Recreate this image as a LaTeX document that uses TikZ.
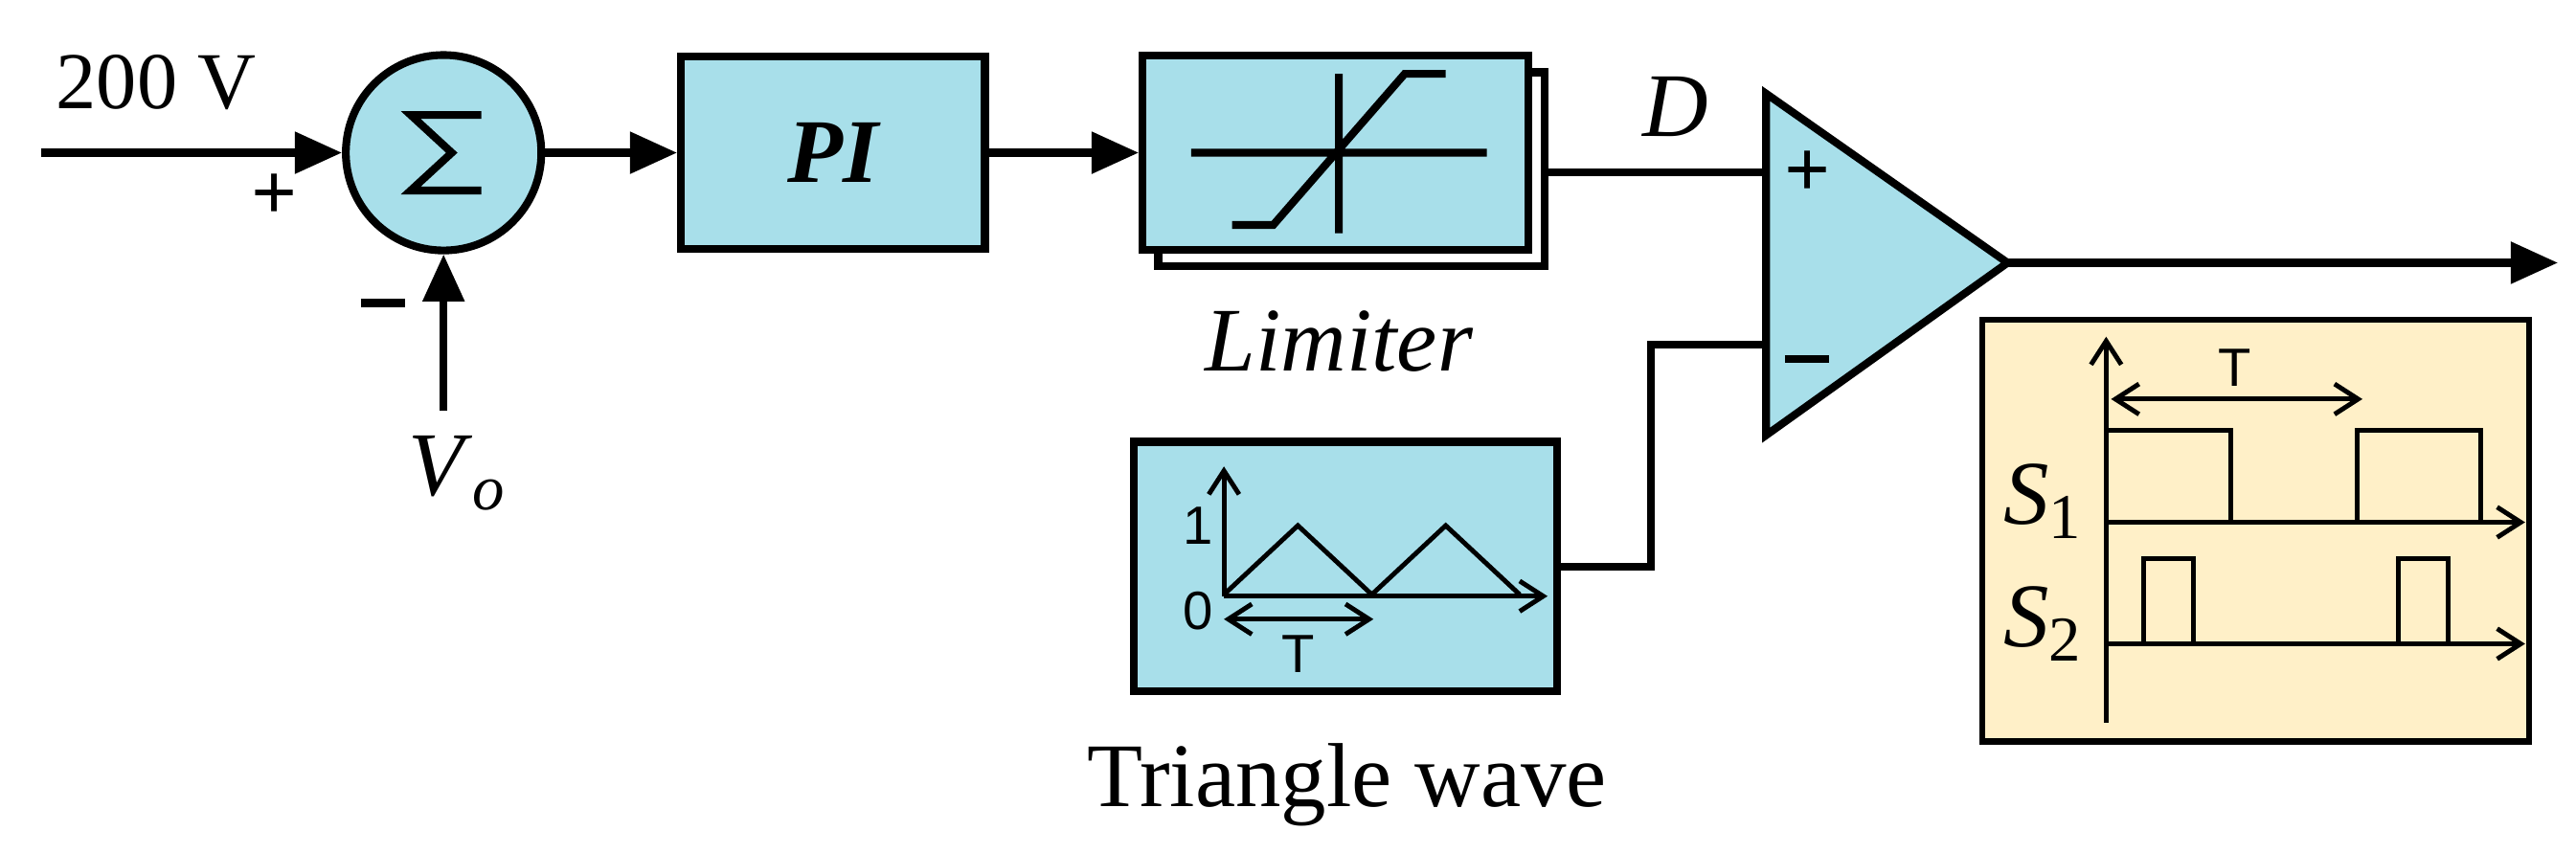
\documentclass[tikz,border=0pt]{standalone}
\usepackage{fontspec}
\setmainfont{Liberation Serif}
\newfontfamily\sansf{Liberation Sans}
\usetikzlibrary{arrows.meta}
\definecolor{bl}{HTML}{A8DFEA}
\definecolor{yl}{HTML}{FFF0C8}
\newcommand{\msub}[2]{\textit{#1}\raisebox{-0.35ex}{\fontsize{19}{20}\selectfont #2}}
\newcommand{\mysign}{\rule[0.3ex]{0.55em}{2.5pt}}
\begin{document}
\begin{tikzpicture}[x=0.017156cm,y=-0.017156cm,
  every path/.style={line width=2.3pt},
  blk/.style={draw,fill=bl,line width=2.3pt},
  thin/.style={line width=1.4pt},
  arr/.style={-{Triangle[length=14pt,width=12pt]}},
  sarr/.style={thin,-{Straight Barb[length=7pt,width=9pt]}},
  big/.style={font=\fontsize{27}{30}\selectfont},
  sml/.style={font=\sansf\fontsize{16}{18}\selectfont}]
\useasboundingbox (0,0) rectangle (1568,519);
% sum
\node[blk,circle,minimum size=119*0.017156cm,inner sep=0] (sum) at (270,93) {};
\draw[line width=2.3pt] (293,70)--(250,70)--(275,93)--(250,116)--(293,116);
\coordinate (in) at (25,93);
\draw[arr] (in) -- (sum.west);
\node[font=\fontsize{24}{28}\selectfont] (ref) at (95,50) {200 V};
\node[font=\fontsize{24}{28}\selectfont\bfseries] (pl) at (167,120) {+};
\node[font=\fontsize{24}{28}\selectfont] (mi) at (233,188) {\mysign};
\coordinate (vo) at (270,250);
\draw[arr] (vo) -- (sum.south);
\node[big] (vol) at (278,288) {\msub{V}{\itshape o}};
% PI
\node[blk,minimum width=185*0.017156cm,minimum height=117*0.017156cm] (pi) at (507,93) {\fontsize{27}{30}\selectfont\bfseries\itshape PI};
% limiter
\draw[line width=2.3pt,fill=white] (705,44) rectangle (940,162);
\node[blk,minimum width=235*0.017156cm,minimum height=118*0.017156cm] (lim) at (813,93) {};
\draw[line width=2.3pt] (725,93)--(905,93) (815,45)--(815,142) (750,137)--(775,137)--(855,45)--(880,45);
\draw[arr] (pi.east) -- (lim.west);
\draw[arr] (sum.east) -- (pi.west);
\node[font=\fontsize{27}{30}\selectfont\itshape] (liml) at (815,208) {Limiter};
% comparator
\draw[line width=2.3pt,fill=bl] (1075,57) coordinate (ct) -- (1222,160) coordinate (cout) -- (1075,265) -- cycle;
\coordinate (cp) at (1075,105);
\coordinate (cm) at (1075,210);
\node[font=\fontsize{24}{28}\selectfont\bfseries] (cpl) at (1100,106) {+};
\node[font=\fontsize{24}{28}\selectfont] (cmi) at (1100,222) {\mysign};
\draw (940,105) -- (cp);
\node[font=\fontsize{27}{30}\selectfont\itshape] (dl) at (1020,65) {D};
\coordinate (oe) at (1557,160);
\draw[arr] (cout) -- (oe);
% triangle wave
\node[blk,minimum width=258*0.017156cm,minimum height=152*0.017156cm] (tri) at (819,345) {};
\draw (tri.east) -- (1005,345) -- (1005,210) -- (cm);
\draw[sarr] (745,363) -- (745,284);
\draw[sarr] (745,363) -- (942,363);
\draw[thin] (745,362)--(790,320)--(835,362)--(880,320)--(925,362);
\draw[thin,{Straight Barb[length=7pt,width=9pt]}-{Straight Barb[length=7pt,width=9pt]}] (745,377)--(836,377);
\node[sml] (t1) at (729,320) {1};
\node[sml] (t0) at (729,372) {0};
\node[sml] (tt) at (790,398) {T};
\node[font=\fontsize{27}{30}\selectfont] (trl) at (820,478) {Triangle wave};
% yellow box
\node[draw,fill=yl,line width=1.8pt,minimum width=333*0.017156cm,minimum height=257*0.017156cm] (yb) at (1373,323) {};
\draw[sarr] (1282,440) -- (1282,205);
\draw[sarr] (1282,318) -- (1537,318);
\draw[sarr] (1282,392) -- (1537,392);
\draw[thin] (1282,262)--(1358,262)--(1358,318) (1435,318)--(1435,262)--(1510,262)--(1510,318);
\draw[thin] (1305,392)--(1305,340)--(1335,340)--(1335,392) (1460,392)--(1460,340)--(1490,340)--(1490,392);
\draw[thin,{Straight Barb[length=7pt,width=9pt]}-{Straight Barb[length=7pt,width=9pt]}] (1285,243)--(1438,243);
\node[sml] (yt) at (1360,224) {T};
\node[font=\fontsize{27}{30}\selectfont] (s1) at (1243,305) {\msub{S}{1}};
\node[font=\fontsize{27}{30}\selectfont] (s2) at (1243,380) {\msub{S}{2}};
\end{tikzpicture}
\end{document}
